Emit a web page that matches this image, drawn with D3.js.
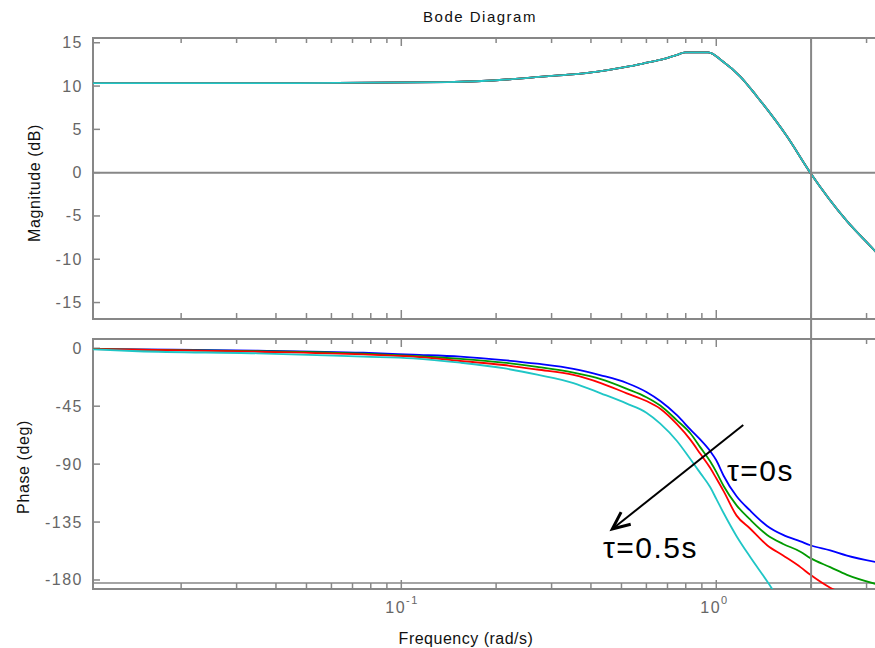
<!DOCTYPE html>
<html>
<head>
<meta charset="utf-8">
<script src="https://cdn.jsdelivr.net/npm/d3@7/dist/d3.min.js"></script>
<style>
  body { margin: 0; background: #fff; }
  svg { display: block; }
  text { font-family: "Liberation Sans", Arial, sans-serif; }
</style>
</head>
<body>
<svg class="bode" width="875" height="648"></svg>
<script>
// frequency points (rad/s) shared by all curves
var freq = [0.0105, 0.0146, 0.035, 0.0757, 0.109, 0.154, 0.211, 0.27, 0.352, 0.43, 0.52, 0.6, 0.664, 0.75, 0.827, 0.89, 0.957, 1.0, 1.055, 1.16, 1.28, 1.45, 1.63, 1.85, 1.99, 2.3, 2.6, 3.2];

// magnitude is the same for every delay
var magFreq = [0.0105, 0.0478, 0.1397, 0.2246, 0.2624, 0.3083, 0.3647, 0.407, 0.471, 0.533, 0.6026, 0.679, 0.75, 0.797, 0.943, 1.052, 1.192, 1.346, 1.676, 1.988, 2.6, 3.2, 3.4];
var magnitude = [10.35, 10.35, 10.45, 10.8, 11.0, 11.2, 11.4, 11.6, 11.95, 12.3, 12.7, 13.1, 13.6, 13.9, 13.9, 12.8, 11.1, 8.8, 4.2, 0, -5.6, -9.1, -10.2];

// phase (deg) for the four delays
var phaseTau0 = [-0.4, -0.8, -1.8, -3.5, -5.0, -6.5, -9.2, -12, -16, -21, -27, -34, -41, -52, -63, -71, -80, -87, -99, -115, -126, -138, -145, -150, -153, -157, -161, -166];
var phaseTau1 = [-0.5, -1.0, -2.2, -4.2, -6.0, -8.3, -11.2, -14.5, -19, -24, -31.5, -38, -44.5, -56, -66, -77, -88, -96, -107, -122, -133, -145, -152, -158, -163, -170, -176, -183];
var phaseTau2 = [-0.6, -1.1, -2.7, -4.8, -6.5, -9.9, -13, -16.5, -20.7, -27, -35, -41, -47, -59, -71, -82, -93, -101, -111, -130, -140, -153, -161, -170, -176, -186, -192, -205];
var phaseTau3 = [-0.8, -2.3, -3.9, -6.5, -7.8, -11.2, -15.5, -20.5, -27, -35, -43, -50, -58.5, -72, -86, -97, -108, -117, -128, -146, -162, -181, -200, -220, -232, -258, -280, -320];
var colors = ["#0000ff", "#009a00", "#ff0000", "#1fc6c6"];

var magTicks = [15, 10, 5, 0, -5, -10, -15];
var phaseTicks = [0, -45, -90, -135, -180];
var crossFreq = 2;

var svg = d3.select("svg.bode");
var axisColor = "#878787";

var x = d3.scaleLog().domain([0.0105, 3.3]).range([93, 879.6]);
var yMag = d3.scaleLinear().domain([15.55, -16.9]).range([38, 319]);
var yPh = d3.scaleLinear().domain([7.2, -187]).range([339, 589]);

var xTicks = x.ticks().filter(function(t) { return t > 0.0105; });
var isMajor = function(t) { return Math.abs(Math.log10(t) - Math.round(Math.log10(t))) < 1e-6; };

function panel(name, y, ticks, top, bottom) {
  var g = svg.append("g").attr("class", name);
  svg.append("clipPath").attr("id", "clip-" + name).append("rect")
    .attr("x", 93).attr("y", top).attr("width", 787).attr("height", bottom - top);
  // border
  g.append("path").attr("d", "M880," + top + "H93V" + bottom + "H880")
    .attr("fill", "none").attr("stroke", axisColor).attr("stroke-width", 2);
  // y ticks + labels
  g.selectAll(".yt").data(ticks).enter().append("line")
    .attr("x1", 93).attr("x2", 100).attr("y1", function(d) { return y(d); }).attr("y2", function(d) { return y(d); })
    .attr("stroke", axisColor).attr("stroke-width", 1.5);
  g.selectAll(".yl").data(ticks).enter().append("text")
    .attr("x", 83).attr("y", function(d) { return y(d) + 5.5; })
    .attr("text-anchor", "end").attr("font-size", 16).attr("letter-spacing", 1.5).attr("fill", "#666")
    .text(function(d) { return d; });
  // x ticks top and bottom
  g.selectAll(".xt").data(xTicks).enter().append("line")
    .attr("x1", function(d) { return x(d); }).attr("x2", function(d) { return x(d); })
    .attr("y1", top).attr("y2", function(d) { return top + (isMajor(d) ? 8 : 5); })
    .attr("stroke", axisColor).attr("stroke-width", 1.5);
  g.selectAll(".xb").data(xTicks).enter().append("line")
    .attr("x1", function(d) { return x(d); }).attr("x2", function(d) { return x(d); })
    .attr("y1", bottom).attr("y2", function(d) { return bottom - (isMajor(d) ? 9 : 6); })
    .attr("stroke", axisColor).attr("stroke-width", 1.5);
  return g;
}

var gMag = panel("mag", yMag, magTicks, 38, 319);
var gPh = panel("phase", yPh, phaseTicks, 339, 589);

// extra axis line of the lower panel
gPh.append("line").attr("x1", 93).attr("x2", 880).attr("y1", 583).attr("y2", 583)
  .attr("stroke", axisColor).attr("stroke-width", 1.5);

// 0 dB line and crossover line
gMag.append("line").attr("x1", 93).attr("x2", 880).attr("y1", yMag(0)).attr("y2", yMag(0))
  .attr("stroke", axisColor).attr("stroke-width", 2);
svg.append("line").attr("x1", x(crossFreq)).attr("x2", x(crossFreq)).attr("y1", 38).attr("y2", 589)
  .attr("stroke", axisColor).attr("stroke-width", 2);

var phases = [phaseTau0, phaseTau1, phaseTau2, phaseTau3];

var magLine = d3.line().curve(d3.curveMonotoneX)
  .x(function(d) { return x(d[0]); }).y(function(d) { return yMag(d[1]); });
var phLine = d3.line().curve(d3.curveMonotoneX)
  .x(function(d) { return x(d[0]); }).y(function(d) { return yPh(d[1]); });

colors.forEach(function(c) {
  gMag.append("path").datum(d3.zip(magFreq, magnitude)).attr("d", magLine)
    .attr("clip-path", "url(#clip-mag)")
    .attr("fill", "none").attr("stroke", c).attr("stroke-width", 1.8);
});
phases.forEach(function(p, i) {
  gPh.append("path").datum(d3.zip(freq, p)).attr("d", phLine)
    .attr("clip-path", "url(#clip-phase)")
    .attr("fill", "none").attr("stroke", colors[i]).attr("stroke-width", 1.8);
});

// x tick labels 10^n
[0.1, 1].forEach(function(t) {
  var lbl = svg.append("text").attr("x", x(t) - 16).attr("y", 613)
    .attr("font-size", 16).attr("letter-spacing", 1.5).attr("fill", "#666");
  lbl.append("tspan").text("10");
  lbl.append("tspan").attr("dy", -9).attr("font-size", 11).text(Math.round(Math.log10(t)));
});

// titles
svg.append("text").attr("x", 480).attr("y", 22).attr("text-anchor", "middle")
  .attr("font-size", 15).attr("letter-spacing", 1.5).attr("fill", "#111").text("Bode Diagram");
svg.append("text").attr("x", 466).attr("y", 644).attr("text-anchor", "middle")
  .attr("font-size", 16).attr("letter-spacing", 0.5).attr("fill", "#111").text("Frequency (rad/s)");
svg.append("text").attr("transform", "translate(40,183) rotate(-90)").attr("text-anchor", "middle")
  .attr("font-size", 16).attr("letter-spacing", 0.6).attr("fill", "#111").text("Magnitude (dB)");
svg.append("text").attr("transform", "translate(29,467) rotate(-90)").attr("text-anchor", "middle")
  .attr("font-size", 16).attr("letter-spacing", 0.6).attr("fill", "#111").text("Phase (deg)");

// delay annotation
var arrowFrom = [1.218, -59.6], arrowTo = [0.4677, -140.4];
var ax1 = x(arrowFrom[0]), ay1 = yPh(arrowFrom[1]), ax2 = x(arrowTo[0]), ay2 = yPh(arrowTo[1]);
svg.append("line").attr("x1", ax1).attr("y1", ay1).attr("x2", ax2).attr("y2", ay2)
  .attr("stroke", "#000").attr("stroke-width", 2);
var ang = Math.atan2(ay2 - ay1, ax2 - ax1), hl = 19, hw = 0.42;
svg.append("path")
  .attr("d", "M" + (ax2 - hl * Math.cos(ang - hw)) + "," + (ay2 - hl * Math.sin(ang - hw)) +
    "L" + ax2 + "," + ay2 +
    "L" + (ax2 - hl * Math.cos(ang + hw)) + "," + (ay2 - hl * Math.sin(ang + hw)))
  .attr("fill", "none").attr("stroke", "#000").attr("stroke-width", 3).attr("stroke-linejoin", "miter");

svg.append("text").attr("x", x(1.081)).attr("y", yPh(-102.9))
  .attr("font-size", 30).attr("letter-spacing", 1.5).attr("fill", "#000").text("τ=0s");
svg.append("text").attr("x", x(0.4368)).attr("y", yPh(-163.2))
  .attr("font-size", 30).attr("letter-spacing", 1.5).attr("fill", "#000").text("τ=0.5s");
</script>
</body>
</html>
